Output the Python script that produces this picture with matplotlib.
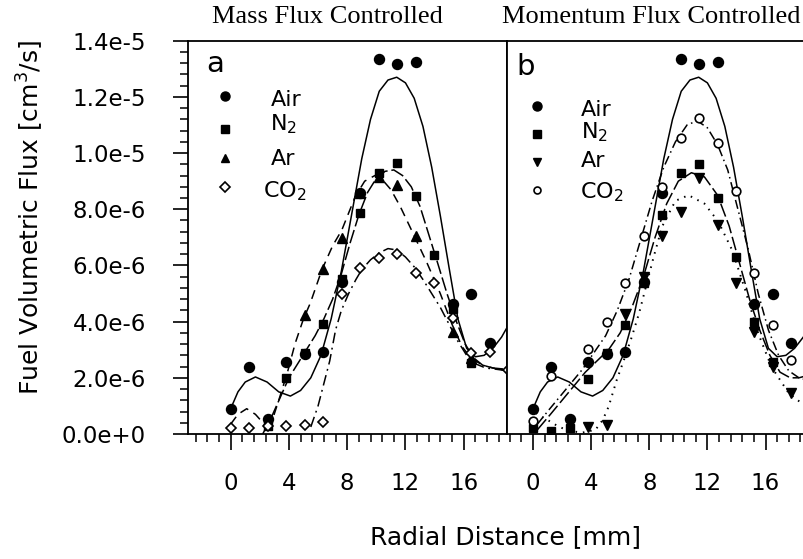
import numpy as np
import matplotlib
matplotlib.use("Agg")
import matplotlib.pyplot as plt
from matplotlib.ticker import MultipleLocator, FixedLocator, FuncFormatter

# ---------------- data (flux in units of 1e-6 cm^3/s, radius in mm) ----------------
# Air (reference case, same in both panels)
air_x = [0, 1.27, 2.54, 3.81, 5.08, 6.35, 7.62, 8.89, 10.16, 11.43, 12.7, 15.24, 16.51, 17.78]
air_y = [0.88, 2.40, 0.55, 2.55, 2.85, 2.93, 5.42, 8.57, 13.34, 13.16, 13.23, 4.63, 4.98, 3.24]
air_fit_x = [0, 0.5, 1.0, 1.7, 2.5, 3.3, 4.1, 4.8, 5.5, 6.2, 6.9, 7.6, 8.3, 9.0, 9.6, 10.2,
             10.8, 11.4, 12.0, 12.6, 13.2, 13.8, 14.4, 15.0, 15.6, 16.2, 16.8, 17.4, 18.0,
             18.6, 19.2, 20.2]
air_fit_y = [0.9, 1.5, 1.85, 2.03, 1.85, 1.5, 1.35, 1.55, 2.0, 2.8, 4.1, 5.8, 7.8, 9.8, 11.2,
             12.2, 12.6, 12.7, 12.5, 11.95, 10.95, 9.5, 7.75, 5.9, 4.1, 3.05, 2.75, 2.8, 3.05,
             3.45, 4.0, 5.2]

# Panel a: mass flux controlled
n2a_x = [2.54, 3.81, 5.08, 6.35, 7.62, 8.89, 10.16, 11.43, 12.7, 13.97, 15.24, 16.51]
n2a_y = [0.3, 1.98, 2.87, 3.92, 5.5, 7.88, 9.28, 9.66, 8.48, 6.37, 4.45, 2.54]
n2a_fit_x = [2.2, 2.8, 3.4, 4.0, 4.6, 5.2, 5.8, 6.4, 7.0, 7.6, 8.2, 8.8, 9.4, 10.0, 10.6, 11.2,
             11.8, 12.4, 13.0, 13.6, 14.2, 14.85, 15.5, 16.1, 16.7, 17.3, 18.0, 19.0]
n2a_fit_y = [0.0, 0.6, 1.3, 2.0, 2.5, 3.0, 3.5, 4.1, 4.8, 5.7, 6.8, 7.8, 8.6, 9.1, 9.35, 9.4,
             9.2, 8.8, 8.1, 7.1, 6.1, 5.0, 4.0, 3.2, 2.7, 2.45, 2.35, 2.3]

ara_x = [5.08, 6.35, 7.62, 8.89, 10.16, 11.43, 12.7, 15.24, 16.51]
ara_y = [4.24, 5.86, 6.99, 8.59, 9.16, 8.86, 7.05, 3.64, 2.69]
ara_fit_x = [0, 0.5, 1.1, 1.7, 2.3, 2.83, 3.3, 3.9, 4.43, 5.0, 5.46, 6.26, 7.0, 7.63, 8.55,
             9.2, 9.9, 10.5, 11.0, 11.64, 12.56, 13.47, 14.39, 15.2, 15.9, 16.5, 17.3, 18.0, 19.0]
ara_fit_y = [0.35, 0.7, 0.9, 0.7, 0.35, 0.45, 1.2, 2.2, 3.23, 4.1, 4.65, 5.84, 6.7, 7.26, 8.45,
             9.0, 9.2, 9.0, 8.7, 8.1, 7.1, 6.1, 5.0, 3.9, 3.1, 2.7, 2.45, 2.35, 2.25]

co2a_x = [0, 1.27, 2.54, 3.81, 5.08, 6.35, 7.62, 8.89, 10.16, 11.43, 12.7, 13.97, 15.24,
          16.51, 17.78, 19.05]
co2a_y = [0.2, 0.2, 0.28, 0.28, 0.32, 0.42, 5.0, 5.9, 6.28, 6.4, 5.72, 5.36, 4.12, 2.87, 2.93, 2.28]
co2a_fit_x = [5.5, 6.0, 6.3, 6.8, 7.2, 7.6, 8.1, 8.6, 9.0, 9.6, 10.2, 10.8, 11.4, 12.0, 12.6,
              13.2, 13.8, 14.4, 15.0, 15.6, 16.2, 16.8, 17.5, 18.3, 19.0]
co2a_fit_y = [0.25, 1.0, 1.6, 2.6, 3.7, 4.4, 5.0, 5.5, 5.85, 6.2, 6.45, 6.6, 6.55, 6.3, 5.95,
              5.5, 5.0, 4.5, 3.9, 3.3, 2.8, 2.5, 2.35, 2.3, 2.25]

# Panel b: momentum flux controlled
n2b_x = [0, 1.27, 2.54, 3.81, 5.08, 6.35, 7.62, 8.89, 10.16, 11.43, 12.7, 13.97, 15.24, 16.51]
n2b_y = [0.2, 0.1, 0.2, 1.95, 2.87, 3.88, 5.36, 7.8, 9.3, 9.6, 8.39, 6.31, 4.0, 2.57]
n2b_fit_x = [0.3, 1.2, 2.0, 2.8, 3.6, 4.4, 5.2, 6.0, 6.8, 7.6, 8.4, 9.2, 10.0, 10.9, 11.8,
             12.7, 13.5, 14.2, 14.9, 15.6, 16.3, 17.0, 17.7, 18.3, 19.0]
n2b_fit_y = [0.15, 0.7, 1.2, 1.7, 2.2, 2.6, 3.0, 3.6, 4.5, 5.6, 7.0, 8.2, 9.0, 9.3, 9.15,
             8.5, 7.4, 6.1, 4.8, 3.7, 2.8, 2.2, 2.0, 2.0, 2.1]

arb_x = [3.81, 5.08, 6.35, 7.62, 8.89, 10.16, 11.43, 12.7, 13.97, 15.24, 16.51, 17.78]
arb_y = [0.24, 0.32, 4.27, 5.6, 7.06, 7.9, 9.1, 7.45, 5.36, 3.64, 2.4, 1.45]
arb_fit_x = [0.2, 1.0, 1.8, 2.6, 3.4, 4.3, 4.8, 5.2, 5.76, 6.3, 6.8, 7.3, 7.7, 8.3, 8.9, 9.8,
             10.7, 11.8, 12.75, 13.7, 14.6, 15.5, 16.4, 17.6, 18.65, 19.5]
arb_fit_y = [0.75, 0.5, 0.25, 0.1, 0.05, 0.15, 0.5, 0.97, 1.92, 2.7, 3.46, 4.3, 5.1, 6.3, 7.4,
             8.3, 8.5, 8.2, 7.56, 6.55, 5.13, 3.58, 2.4, 1.45, 1.03, 0.8]

co2b_x = [0, 1.27, 3.81, 5.08, 6.35, 7.62, 8.89, 10.16, 11.43, 12.7, 13.97, 15.24, 16.51, 17.78]
co2b_y = [0.45, 2.06, 3.03, 4.0, 5.39, 7.05, 8.8, 10.53, 11.24, 10.37, 8.66, 5.74, 3.88, 2.63]
co2b_fit_x = [0.3, 1.0, 1.8, 2.6, 3.4, 4.2, 5.0, 5.8, 6.6, 7.4, 8.2, 9.0, 9.8, 10.6, 11.3,
              12.0, 12.7, 13.4, 14.1, 14.8, 15.5, 16.2, 16.9, 17.6, 18.3, 19.0]
co2b_fit_y = [0.35, 0.8, 1.3, 1.8, 2.3, 2.9, 3.5, 4.4, 5.5, 6.9, 8.3, 9.5, 10.4, 11.0, 11.15,
              10.9, 10.3, 9.4, 8.0, 6.6, 5.0, 3.7, 2.8, 2.25, 2.0, 1.9]

x_ticks = [0, 4, 8, 12, 16]
scale = 1e-6

# ---------------- styling ----------------
plt.rcParams['font.family'] = ['DejaVu Sans']
plt.rcParams['mathtext.fontset'] = 'dejavusans'
plt.rcParams['lines.solid_joinstyle'] = 'round'
plt.rcParams['lines.dash_joinstyle'] = 'round'

W, H = 804, 559
fig = plt.figure(figsize=(W / 100, H / 100), dpi=100)

def fx(px):
    return px / W

def fy(py):
    return 1 - py / H

# axes rectangles (pixels): left spine, plot top, plot bottom
top_px, bot_px = 40.7, 434.0
ax_a = fig.add_axes([fx(187.7), fy(bot_px), (506.7 - 187.7) / W, (bot_px - top_px) / H])
ax_b = fig.add_axes([fx(506.7), fy(bot_px), 319.7 / W, (bot_px - top_px) / H])

LW = 1.1
K = 'black'

def sci_label(v, pos):
    s = f"{v * scale:.1e}"
    mant, ex = s.split('e')
    return f"{mant}e{int(ex):+d}"

for ax, xlim in ((ax_a, (-2.95, 18.95)), (ax_b, (-1.81, 20.19))):
    ax.set_xlim(*xlim)
    ax.set_ylim(0, 14)
    ax.xaxis.set_major_locator(FixedLocator(x_ticks))
    ax.xaxis.set_minor_locator(MultipleLocator(0.8))
    ax.tick_params(axis='x', which='major', direction='out', length=11.5, width=1.2,
                   pad=16, labelsize=16.5)
    ax.tick_params(axis='x', which='minor', direction='out', length=5.8, width=1.1)
    for sp in ax.spines.values():
        sp.set_linewidth(1.3)
    ax.tick_params(top=False, right=False)

ax_a.yaxis.set_major_locator(MultipleLocator(2))
ax_a.yaxis.set_minor_locator(MultipleLocator(0.4))
ax_a.yaxis.set_major_formatter(FuncFormatter(sci_label))
ax_a.tick_params(axis='y', which='major', direction='out', length=11, width=1.2,
                 pad=19, labelsize=16.5)
ax_a.tick_params(axis='y', which='minor', direction='out', length=5.6, width=1.1)
ax_b.tick_params(axis='y', which='both', left=False, labelleft=False)
ax_b.spines['right'].set_visible(False)

# ---------------- fits and measurements ----------------
# panel a
ax_a.plot(air_fit_x, air_fit_y, color=K, lw=LW, ls='-')
ax_a.plot(n2a_fit_x, n2a_fit_y, color=K, lw=LW, ls=(0, (9, 2.5)))
ax_a.plot(ara_fit_x, ara_fit_y, color=K, lw=LW, ls=(0, (6, 4)))
ax_a.plot(co2a_fit_x, co2a_fit_y, color=K, lw=LW, ls=(0, (7, 3, 1.2, 3)))

ax_a.plot(air_x, air_y, 'o', color=K, ms=7.2, ls='none', zorder=4)
ax_a.plot(n2a_x, n2a_y, 's', color=K, ms=6.0, ls='none', zorder=4)
ax_a.plot(ara_x, ara_y, '^', color=K, ms=6.8, ls='none', zorder=4)
ax_a.plot(co2a_x, co2a_y, 'D', mfc='white', mec=K, mew=1.2, ms=5.2, ls='none', zorder=5)

# panel b
ax_b.plot(air_fit_x, air_fit_y, color=K, lw=LW, ls='-')
ax_b.plot(n2b_fit_x, n2b_fit_y, color=K, lw=LW, ls=(0, (9, 2.5)))
ax_b.plot(arb_fit_x, arb_fit_y, color=K, lw=1.4, ls=(0, (0.8, 3)))
ax_b.plot(co2b_fit_x, co2b_fit_y, color=K, lw=LW, ls=(0, (6, 2.5, 1, 2.5)))

ax_b.plot(air_x, air_y, 'o', color=K, ms=7.2, ls='none', zorder=4)
ax_b.plot(n2b_x, n2b_y, 's', color=K, ms=6.0, ls='none', zorder=4)
ax_b.plot(arb_x, arb_y, 'v', color=K, ms=6.8, ls='none', zorder=4)
ax_b.plot(co2b_x, co2b_y, 'o', mfc='white', mec=K, mew=1.2, ms=6.2, ls='none', zorder=5)

# ---------------- legends and panel letters ----------------
def legend(ax, left_px, width_px, entries):
    for mk_px, base_px, text_px, label, style in entries:
        mx = (mk_px[0] - left_px) / width_px
        my = (bot_px - mk_px[1]) / (bot_px - top_px)
        ax.plot([mx], [my], transform=ax.transAxes, clip_on=False, ls='none', **style)
        ax.text((text_px - left_px) / width_px, (bot_px - base_px) / (bot_px - top_px), label,
                transform=ax.transAxes, fontsize=16, va='baseline', ha='left')

legend(ax_a, 187.7, 319.0, [
    ((225, 95.7), 106, 271, 'Air', dict(marker='o', color=K, ms=6.5)),
    ((225, 129), 130, 270, 'N$_2$', dict(marker='s', color=K, ms=5.5)),
    ((225, 158.3), 165, 271, 'Ar', dict(marker='^', color=K, ms=5.5)),
    ((225, 186.7), 197, 263, 'CO$_2$', dict(marker='D', mfc='white', mec=K, mew=1.2, ms=5.0)),
])
legend(ax_b, 506.7, 319.7, [
    ((536.7, 106), 116, 581, 'Air', dict(marker='o', color=K, ms=6.5)),
    ((536.7, 134.3), 138.3, 581, 'N$_2$', dict(marker='s', color=K, ms=5.5)),
    ((536.7, 161.7), 166.7, 581, 'Ar', dict(marker='v', color=K, ms=5.5)),
    ((536.7, 190), 198.3, 580, 'CO$_2$', dict(marker='o', mfc='white', mec=K, mew=1.2, ms=5.0)),
])

fig.text(fx(206), fy(71.7), 'a', fontsize=21, va='baseline', ha='left')
fig.text(fx(516), fy(75), 'b', fontsize=21, va='baseline', ha='left')

# ---------------- titles and axis labels ----------------
serif = ['Liberation Serif', 'DejaVu Serif']
fig.text(fx(327), fy(17), 'Mass Flux Controlled', family=serif, fontsize=19,
         ha='center', va='center')
fig.text(fx(651), fy(17), 'Momentum Flux Controlled', family=serif, fontsize=19,
         ha='center', va='center')

fig.text(fx(30), fy(217), 'Fuel Volumetric Flux [cm$^3$/s]', rotation=90, fontsize=18,
         ha='center', va='center')
fig.text(fx(505), fy(537), 'Radial Distance [mm]', fontsize=18, ha='center', va='center')

fig.savefig('out.png', dpi=100)
